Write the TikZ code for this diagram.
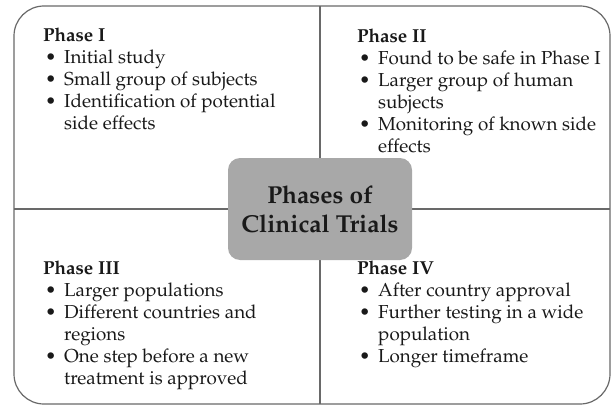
\documentclass[tikz,border=0pt]{standalone}
\usepackage[T1]{fontenc}
\usepackage{mathpazo}
\usepackage{tikz}
\usetikzlibrary{calc}
\definecolor{boxgray}{RGB}{168,168,168}
\definecolor{linegray}{RGB}{105,105,105}
\newcommand{\bulletItem}{\makebox[21pt][l]{\hspace{2pt}\textbullet}}
\newcommand{\bulletCont}{\hspace*{21pt}}

\begin{document}
\begin{tikzpicture}[x=1pt,y=-1pt,
    every node/.style={text=black!90},
    phase/.style={anchor=north west, inner sep=0pt, align=left,
        font=\fontsize{18.8}{22}\selectfont},
    divider/.style={draw=linegray, line width=1.2pt},
    title/.style={fill=boxgray, rounded corners=12pt, minimum width=184pt,
        minimum height=102pt, align=center,
        font=\fontsize{24.5}{29}\selectfont\bfseries}]
\useasboundingbox (0,0) rectangle (612,409);

\draw[divider, rounded corners=30pt] (14,6) rectangle (610,404);
\coordinate (top) at (320,6);
\coordinate (bottom) at (320,404);
\coordinate (left) at (14,209);
\coordinate (right) at (610,209);
\draw[divider] (top) -- (bottom);
\draw[divider] (left) -- (right);

\node[title] (center) at ($(top |- left)$) {Phases of\\Clinical Trials};

\node[phase] (phaseI) at (43,28) {\textbf{Phase I}\\
    \bulletItem Initial study\\
    \bulletItem Small group of subjects\\
    \bulletItem Identification of potential\\
    \bulletCont side effects};
\node[phase] (phaseII) at (357,29) {\textbf{Phase II}\\
    \bulletItem Found to be safe in Phase I\\
    \bulletItem Larger group of human\\
    \bulletCont subjects\\
    \bulletItem Monitoring of known side\\
    \bulletCont effects};
\node[phase] (phaseIII) at (43,261) {\textbf{Phase III}\\
    \bulletItem Larger populations\\
    \bulletItem Different countries and\\
    \bulletCont regions\\
    \bulletItem One step before a new\\
    \bulletCont treatment is approved};
\node[phase] (phaseIV) at (357,261) {\textbf{Phase IV}\\
    \bulletItem After country approval\\
    \bulletItem Further testing in a wide\\
    \bulletCont population\\
    \bulletItem Longer timeframe};
\end{tikzpicture}
\end{document}
